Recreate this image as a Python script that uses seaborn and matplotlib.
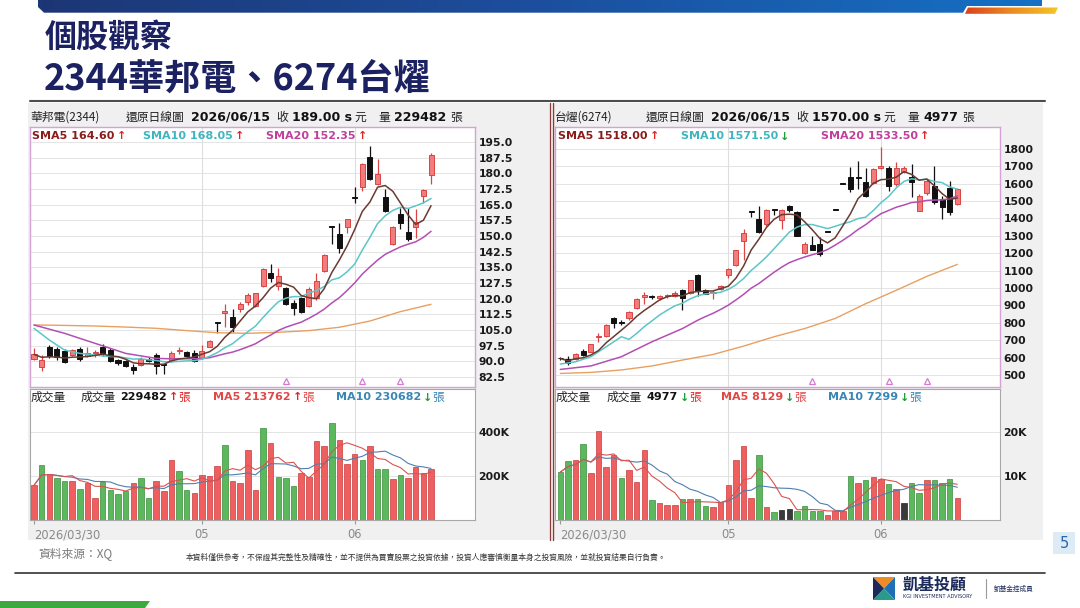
import numpy as np
import pandas as pd
import matplotlib
matplotlib.use("Agg")
import matplotlib.pyplot as plt
import matplotlib.transforms as mtransforms
from matplotlib.patches import Rectangle, Polygon
from matplotlib.colors import LinearSegmentedColormap
import seaborn as sns

# ---------------- DATA ----------------
month_tick_idx = [0, 22, 42]
month_tick_labels = ["2026/03/30", "05", "06"]
marker_idx = [33, 43, 48]

# 華邦電 (2344)
a_open = [91.1, 87.4, 97.0, 95.7, 94.9, 93.0, 95.7, 92.5, 93.9, 96.7, 95.4, 90.6, 90.1, 87.4, 88.2, 91.0,
          93.0, 88.5, 90.3, 95.0, 94.5, 94.1, 91.4, 97.0, 108.5, 113.0, 111.4, 114.9, 118.2, 116.6, 126.2,
          132.4, 126.1, 125.0, 117.8, 120.1, 116.5, 120.1, 133.2, 154.8, 151.0, 154.5, 168.2, 173.6, 188.0,
          174.9, 168.8, 146.0, 160.5, 152.1, 154.1, 169.1, 179.2]
a_high = [96.2, 93.0, 97.8, 97.0, 95.7, 96.0, 97.0, 97.0, 95.4, 98.1, 96.2, 90.9, 90.6, 88.5, 92.1, 92.0,
          93.8, 88.7, 95.0, 97.0, 95.0, 95.4, 97.8, 100.2, 108.6, 117.3, 114.9, 118.2, 122.9, 122.9, 134.5,
          136.6, 134.5, 125.7, 119.3, 121.0, 125.7, 132.4, 141.4, 154.9, 156.4, 158.3, 173.6, 184.8, 193.1,
          186.9, 172.3, 154.8, 163.2, 163.2, 162.8, 172.3, 189.6]
a_low = [90.7, 85.4, 91.4, 90.6, 89.0, 92.5, 90.3, 92.1, 92.1, 92.5, 89.8, 88.0, 87.4, 83.8, 87.7, 89.5,
         83.9, 84.0, 89.8, 93.5, 92.1, 89.5, 91.1, 96.7, 103.7, 106.6, 104.2, 113.8, 117.0, 116.2, 125.7,
         128.1, 124.1, 117.0, 112.2, 113.3, 115.8, 119.3, 132.9, 146.2, 141.7, 151.3, 165.6, 171.7, 176.8,
         174.4, 161.6, 145.5, 153.2, 147.8, 148.9, 166.0, 174.7]
a_close = [93.3, 90.6, 92.5, 91.9, 89.5, 95.4, 90.9, 93.8, 94.5, 93.3, 90.3, 89.3, 87.7, 85.8, 91.1, 90.3,
           87.7, 88.2, 93.8, 95.5, 92.5, 90.3, 95.0, 99.7, 108.4, 114.2, 106.6, 117.4, 121.7, 122.5, 134.0,
           129.7, 130.8, 117.4, 115.7, 113.8, 124.6, 128.6, 140.9, 154.5, 144.1, 158.0, 168.0, 184.3, 177.1,
           179.5, 162.0, 154.1, 156.1, 148.6, 156.9, 172.0, 189.0]
a_volume = [157600, 251500, 210600, 190900, 175800, 178800, 139400, 169700, 101500, 172700, 134800, 118200,
            130300, 168200, 189400, 101500, 178800, 130300, 272700, 222700, 134800, 124200, 204500, 200000,
            243900, 339400, 178800, 168200, 318200, 137900, 419700, 350000, 197000, 189400, 154500, 213600,
            197000, 359100, 337900, 439400, 362100, 254500, 300000, 274200, 334800, 233300, 231800, 184800,
            206100, 189400, 242400, 215200, 229482]
a_vol_dir = "rgrggrgrrggggrggrrrggrrrrgrrrrgrgggrrrrgrrrgrggrgrrr"
a_ma10_head_idx = [0, 2, 4, 6, 8]
a_ma10_head = [105.8, 100.2, 95.4, 93.8, 93.0]
a_ma20_head_idx = [0, 4, 8, 12, 16, 18]
a_ma20_head = [107.4, 103.4, 98.6, 93.8, 91.4, 91.2]
a_ma60_idx = [0, 4, 8, 12, 16, 20, 24, 28, 32, 36, 40, 44, 48, 52]
a_ma60 = [107.4, 107.2, 106.9, 106.4, 105.8, 104.7, 103.7, 103.4, 103.9, 104.7, 106.3, 109.3, 113.8, 117.3]
a_price_ticks = [82.5, 90.0, 97.5, 105.0, 112.5, 120.0, 127.5, 135.0, 142.5, 150.0, 157.5, 165.0, 172.5,
                 180.0, 187.5, 195.0]
a_vol_ticks = [200000, 400000]
a_vol_tick_labels = ["200K", "400K"]

# 台燿 (6274)
b_open = [597, 592, 592, 637, 634, 717, 725, 828, 802, 825, 888, 950, 952, 945, 952, 955, 987, 971, 1076,
          991, 970, 993, 1076, 1130, 1273, 1440, 1397, 1369, 1452, 1391, 1470, 1435, 1200, 1248, 1254, 1327,
          1450, 1600, 1636, 1634, 1607, 1603, 1693, 1693, 1601, 1670, 1640, 1445, 1544, 1588, 1512, 1575, 1483]
b_high = [605, 609, 624, 647, 681, 739, 796, 834, 819, 868, 943, 977, 958, 958, 964, 981, 996, 1048, 1082,
          996, 987, 1016, 1117, 1220, 1340, 1441, 1474, 1454, 1454, 1455, 1480, 1441, 1264, 1298, 1292, 1329,
          1452, 1602, 1697, 1731, 1693, 1693, 1811, 1703, 1727, 1703, 1712, 1540, 1626, 1703, 1531, 1617, 1573]
b_low = [586, 557, 586, 609, 630, 691, 719, 773, 786, 819, 882, 910, 939, 930, 945, 949, 872, 968, 952, 964,
         939, 987, 1059, 1124, 1159, 1411, 1315, 1359, 1422, 1340, 1435, 1298, 1193, 1216, 1187, 1323, 1446,
         1596, 1550, 1569, 1521, 1598, 1684, 1559, 1588, 1661, 1525, 1441, 1537, 1483, 1397, 1422, 1479]
b_close = [595, 567, 620, 615, 678, 722, 790, 800, 798, 863, 935, 960, 949, 952, 955, 973, 945, 1044, 983,
           968, 977, 1012, 1111, 1216, 1315, 1439, 1321, 1451, 1450, 1450, 1450, 1302, 1254, 1220, 1197, 1325,
           1448, 1598, 1569, 1632, 1531, 1684, 1700, 1584, 1689, 1689, 1607, 1531, 1617, 1493, 1468, 1440, 1570]
b_volume = [10900, 13400, 13600, 17300, 10700, 20200, 12000, 14900, 9600, 11300, 8600, 15900, 4500, 3900,
            3500, 3300, 4700, 4700, 4700, 3200, 3000, 4100, 7900, 13700, 16900, 4900, 14700, 3000, 1900, 2300,
            2500, 2000, 3100, 2000, 2000, 1200, 2000, 2000, 9900, 8500, 9200, 9800, 9300, 8300, 7000, 3900,
            8400, 6200, 9000, 9000, 8400, 9300, 4977]
b_vol_dir = "ggrgrrrrgrrrgrrrgrggrrrrrrgrgkkggggrrrgrgrrgrkggrgggr"
b_ma10_head_idx = [0, 2, 4, 6, 8]
b_ma10_head = [563, 576, 605, 662, 720]
b_ma20_head_idx = [0, 4, 8, 12, 16, 18]
b_ma20_head = [532, 552, 605, 691, 767, 815]
b_ma60_idx = [0, 4, 8, 12, 16, 20, 24, 28, 32, 36, 40, 44, 48, 52]
b_ma60 = [509, 515, 529, 552, 586, 618, 666, 720, 767, 825, 910, 987, 1067, 1136]
b_price_ticks = [500, 600, 700, 800, 900, 1000, 1100, 1200, 1300, 1400, 1500, 1600, 1700, 1800]
b_vol_ticks = [10000, 20000]
b_vol_tick_labels = ["10K", "20K"]

# ---------------- STYLE ----------------
sns.set_theme(style="white")
plt.rcParams['font.family'] = ['Noto Sans CJK TC', 'DejaVu Sans']
plt.rcParams['axes.unicode_minus'] = False

W, H = 1080, 608
fig = plt.figure(figsize=(10.8, 6.08), dpi=100)
fig.patch.set_facecolor('white')
renderer = fig.canvas.get_renderer()


def fx(x):
    return x / W


def fy(y):
    return 1 - y / H


def add_ax(x0, y0, x1, y1, **kw):
    return fig.add_axes([fx(x0), fy(y1), (x1 - x0) / W, (y1 - y0) / H], **kw)


LAT = ['DejaVu Sans']
CJK = ['Noto Sans CJK TC', 'DejaVu Sans']


def T(x, y, s, size=8.5, color='#222222', weight='normal', fam=None, ha='left', va='center', z=5):
    return fig.text(fx(x), fy(y), s, fontsize=size, color=color, fontweight=weight,
                    family=fam if fam else CJK, ha=ha, va=va, zorder=z)


# background / decoration axes
bg = fig.add_axes([0, 0, 1, 1], zorder=-5)
bg.set_xlim(0, W)
bg.set_ylim(H, 0)
bg.axis('off')

# top banner with gradient
grad = np.linspace(0, 1, 256).reshape(1, -1)
cm_blue = LinearSegmentedColormap.from_list('b', ['#1d3675', '#1c4f9e', '#1570c4'])
im = bg.imshow(grad, cmap=cm_blue, extent=[38, 1042, 13, 0], aspect='auto', zorder=1)
banner = Polygon([(38, 0), (1042, 0), (1042, 6), (967, 6), (963, 12.7), (44, 12.7), (38, 7)],
                 closed=True, transform=bg.transData, fc='none', ec='none')
bg.add_patch(banner)
im.set_clip_path(banner)
cm_org = LinearSegmentedColormap.from_list('o', ['#d8401e', '#ec8a22', '#f2c626'])
im2 = bg.imshow(grad, cmap=cm_org, extent=[964, 1058, 14, 7], aspect='auto', zorder=1)
strip = Polygon([(968, 7.5), (1058, 7.5), (1055, 13.8), (965, 13.8)], closed=True,
                transform=bg.transData, fc='none', ec='none')
bg.add_patch(strip)
im2.set_clip_path(strip)

# titles
T(45, 38, '個股觀察', size=23, color='#1b2161', weight='bold')
T(44, 80, '2344華邦電、6274台燿', size=26, color='#1b2161', weight='bold')
bg.plot([30, 1045], [100.5, 100.5], color='#4d4d4d', lw=1.5, zorder=2)

# panel backgrounds
bg.add_patch(Rectangle((28, 103), 521, 437, fc='#f0f0f0', ec='none', zorder=1))
bg.add_patch(Rectangle((553, 103), 490, 437, fc='#f0f0f0', ec='none', zorder=1))
bg.plot([549.5, 549.5], [103, 540], color='#8b3a3a', lw=1, zorder=2)
bg.plot([552.5, 552.5], [103, 540], color='#8b3a3a', lw=1, zorder=2)

# footer
T(38, 555, '資料來源：XQ', size=8.5, color='#7a7a7a')
T(186, 558, '本資料僅供參考，不保證其完整性及精確性，並不提供為買賣股票之投資依據，投資人應審慎衡量本身之投資風險，並就投資結果自行負責。',
  size=5.6, color='#333333')
bg.plot([15, 1045], [572.5, 572.5], color='#333333', lw=1.2, zorder=2)
bg.add_patch(Rectangle((1053, 532), 22, 22, fc='#dcebf6', ec='none', zorder=2))
T(1064, 543, '5', size=10.5, color='#2a66aa', fam=LAT, ha='center')
bg.add_patch(Polygon([(0, 601), (150, 601), (145, 608), (0, 608)], closed=True, fc='#3daa3d', ec='none', zorder=2))
# logo
cx, cy = 884, 588.5
bg.add_patch(Polygon([(873, 577), (895, 577), (cx, cy)], fc='#f08a24', ec='none', zorder=3))
bg.add_patch(Polygon([(895, 577), (895, 600), (cx, cy)], fc='#1f6fb5', ec='none', zorder=3))
bg.add_patch(Polygon([(873, 600), (895, 600), (cx, cy)], fc='#2a9a8a', ec='none', zorder=3))
bg.add_patch(Polygon([(873, 577), (873, 600), (cx, cy)], fc='#1b2a5a', ec='none', zorder=3))
T(903, 585, '凱基投顧', size=11.5, color='#1b2a5a', weight='bold')
T(903, 597, 'KGI INVESTMENT ADVISORY', size=3.6, color='#1b2a5a', fam=LAT)
bg.plot([986, 986], [579, 598], color='#999999', lw=0.8, zorder=2)
T(994, 589, '凱基金控成員', size=4.8, color='#1b2a5a')

# ---------------- CHARTS ----------------
RED_F, RED_E = '#f27b7b', '#d94444'
BLK = '#111111'
VCOL = {'r': ('#ef5f5f', '#c83c3c'), 'g': ('#5cb85c', '#3c8c3c'), 'k': ('#3a3a3a', '#222222')}


def draw_stock(x0, x1, first_x, o, h, l, c, vol, vdir, m10_idx, m10_head, m20_idx, m20_head,
               m60_idx, m60, pticks, pfmt, ylim, vticks, vlabels, vylim, min_body):
    n = len(c)
    step = 7.635
    xlim = (-(first_x - x0) / step, (x1 - first_x) / step)
    idx = np.arange(n)
    o = np.array(o, float); h = np.array(h, float); l = np.array(l, float); c = np.array(c, float)
    cs = pd.Series(c)

    ax = add_ax(x0, 127, x1, 387)
    ax.set_facecolor('white')
    ax.set_xlim(*xlim)
    ax.set_ylim(*ylim)
    for yv in pticks:
        ax.axhline(yv, color='#e4e4e4', lw=0.7, zorder=0)
    for xv in month_tick_idx[1:]:
        ax.axvline(xv, color='#dedede', lw=0.8, zorder=0)
    up = c >= o
    for i in idx:
        col_e = RED_E if up[i] else BLK
        ax.vlines(i, l[i], h[i], color=col_e, lw=0.9, zorder=2)
        bot = min(o[i], c[i])
        hgt = max(abs(c[i] - o[i]), min_body)
        ax.bar(i, hgt, bottom=bot, width=0.66, color=RED_F if up[i] else BLK,
               edgecolor=col_e, linewidth=0.7, zorder=3)
    ma5 = cs.rolling(5, min_periods=1).mean()
    ma10_x = list(m10_idx) + list(range(9, n))
    ma10_y = list(m10_head) + list(cs.rolling(10).mean()[9:])
    ma20_x = list(m20_idx) + list(range(19, n))
    ma20_y = list(m20_head) + list(cs.rolling(20).mean()[19:])
    sns.lineplot(x=m60_idx, y=m60, ax=ax, color='#e8a062', lw=1.0, zorder=4)
    sns.lineplot(x=ma20_x, y=ma20_y, ax=ax, color='#b24fb2', lw=1.1, zorder=4)
    sns.lineplot(x=ma10_x, y=ma10_y, ax=ax, color='#5cc6c8', lw=1.1, zorder=4)
    sns.lineplot(x=idx, y=ma5.values, ax=ax, color='#6a3a30', lw=1.1, zorder=4)
    tr = mtransforms.blended_transform_factory(ax.transData, ax.transAxes)
    ax.plot(marker_idx, [0.022] * len(marker_idx), ls='none', marker='^', ms=5, mfc='none',
            mec='#d47ad4', mew=0.9, transform=tr, zorder=5, clip_on=False)
    ax.set_xticks([])
    ax.yaxis.tick_right()
    ax.set_yticks(pticks)
    ax.set_yticklabels([pfmt.format(v) for v in pticks])
    ax.tick_params(axis='y', length=0, pad=2.5, labelsize=7.8, labelcolor='#1a1a1a')
    for t in ax.get_yticklabels():
        t.set_family(LAT); t.set_fontweight('bold')
    ax.set_xlabel(''); ax.set_ylabel('')
    for s in ax.spines.values():
        s.set_color('#d4a2d4'); s.set_linewidth(1.0); s.set_visible(True)

    av = add_ax(x0, 389, x1, 520)
    av.set_facecolor('white')
    av.set_xlim(*xlim)
    av.set_ylim(*vylim)
    for yv in vticks:
        av.axhline(yv, color='#e4e4e4', lw=0.7, zorder=0)
    for xv in month_tick_idx[1:]:
        av.axvline(xv, color='#dedede', lw=0.8, zorder=0)
    fcs = [VCOL[d][0] for d in vdir]
    ecs = [VCOL[d][1] for d in vdir]
    av.bar(idx, vol, width=0.72, color=fcs, edgecolor=ecs, linewidth=0.5, zorder=2)
    vs = pd.Series(np.array(vol, float))
    sns.lineplot(x=idx, y=vs.rolling(10, min_periods=1).mean().values, ax=av, color='#4f7fae', lw=0.8, zorder=3)
    sns.lineplot(x=idx, y=vs.rolling(5, min_periods=1).mean().values, ax=av, color='#d9534f', lw=0.8, zorder=3)
    av.yaxis.tick_right()
    av.set_yticks(vticks)
    av.set_yticklabels(vlabels)
    av.tick_params(axis='y', length=0, pad=2.5, labelsize=7.8, labelcolor='#1a1a1a')
    for t in av.get_yticklabels():
        t.set_family(LAT); t.set_fontweight('bold')
    av.set_xticks(month_tick_idx)
    av.set_xticklabels(month_tick_labels)
    av.tick_params(axis='x', direction='out', length=3, width=0.8, color='#999999', pad=3,
                   labelsize=8.3, labelcolor='#8a8a8a', bottom=True)
    labs = av.get_xticklabels()
    for t in labs:
        t.set_family(LAT)
    labs[0].set_horizontalalignment('left')
    av.set_xlabel(''); av.set_ylabel('')
    for s in av.spines.values():
        s.set_color('#a8a8a8'); s.set_linewidth(0.8); s.set_visible(True)
    return ax, av


draw_stock(30, 475, 34.0, a_open, a_high, a_low, a_close, a_volume, a_vol_dir,
           a_ma10_head_idx, a_ma10_head, a_ma20_head_idx, a_ma20_head, a_ma60_idx, a_ma60,
           a_price_ticks, '{:.1f}', (77.7, 202.2), a_vol_ticks, a_vol_tick_labels, (0, 595000), 0.45)
draw_stock(555, 1000, 560.3, b_open, b_high, b_low, b_close, b_volume, b_vol_dir,
           b_ma10_head_idx, b_ma10_head, b_ma20_head_idx, b_ma20_head, b_ma60_idx, b_ma60,
           b_price_ticks, '{:d}', (431, 1926), b_vol_ticks, b_vol_tick_labels, (0, 29800), 5.5)

# ---------------- HEADER TEXTS ----------------
UP, DN = '↑', '↓'
R_ARW, G_ARW = '#e02424', '#1e9e3a'


def header(y, segs):
    """segs: (x or None, gap, text, kind, color); None = chained after previous text."""
    cur = 0
    for x, gap, s, kind, col in segs:
        if x is None:
            x = cur + gap
        if kind == 'b':
            t = T(x, y, s, size=9, color=col, weight='bold', fam=LAT)
        elif kind in ('a', 's'):
            t = T(x, y, s, size=8, color=col, weight='bold', fam=LAT)
        else:
            t = T(x, y, s, size=8.5, color=col)
        cur = t.get_window_extent(renderer=renderer).x1


K = '#222222'
KB = '#111111'
header(117.5, [(30, 0, '華邦電(2344)', 'c', K), (126, 0, '還原日線圖', 'c', K),
               (191, 0, '2026/06/15', 'b', KB), (None, 6, '收', 'c', K), (None, 4, '189.00 s', 'b', KB),
               (None, 3, '元', 'c', K), (None, 12, '量', 'c', K), (None, 4, '229482', 'b', KB),
               (None, 4, '張', 'c', K)])
header(117.5, [(555, 0, '台燿(6274)', 'c', K), (646, 0, '還原日線圖', 'c', K),
               (711, 0, '2026/06/15', 'b', KB), (None, 6, '收', 'c', K), (None, 4, '1570.00 s', 'b', KB),
               (None, 3, '元', 'c', K), (None, 12, '量', 'c', K), (None, 4, '4977', 'b', KB),
               (None, 4, '張', 'c', K)])

C5, C10, C20 = '#8b1c1c', '#3fb6bf', '#c0409c'
header(136.5, [(32, 0, 'SMA5 164.60', 's', C5), (None, 2, UP, 'a', R_ARW),
               (143, 0, 'SMA10 168.05', 's', C10), (None, 2, UP, 'a', R_ARW),
               (266, 0, 'SMA20 152.35', 's', C20), (None, 2, UP, 'a', R_ARW)])
header(136.5, [(558, 0, 'SMA5 1518.00', 's', C5), (None, 2, UP, 'a', R_ARW),
               (681, 0, 'SMA10 1571.50', 's', C10), (None, 2, DN, 'a', G_ARW),
               (821, 0, 'SMA20 1533.50', 's', C20), (None, 2, UP, 'a', R_ARW)])

VR, VB = '#e04848', '#3a86b4'
header(397.5, [(31, 0, '成交量', 'c', K), (81, 0, '成交量', 'c', K), (None, 4, '229482', 's', KB),
               (None, 2, UP, 'a', R_ARW), (None, 0, '張', 'c', R_ARW),
               (213, 0, 'MA5 213762', 's', VR), (None, 2, UP, 'a', R_ARW), (None, 0, '張', 'c', VR),
               (336, 0, 'MA10 230682', 's', VB), (None, 2, DN, 'a', G_ARW), (None, 0, '張', 'c', VB)])
header(397.5, [(556, 0, '成交量', 'c', K), (607, 0, '成交量', 'c', K), (None, 4, '4977', 's', KB),
               (None, 2, DN, 'a', G_ARW), (None, 0, '張', 'c', R_ARW),
               (721, 0, 'MA5 8129', 's', VR), (None, 2, DN, 'a', G_ARW), (None, 0, '張', 'c', VR),
               (828, 0, 'MA10 7299', 's', VB), (None, 2, DN, 'a', G_ARW), (None, 0, '張', 'c', VB)])

fig.savefig('out.png', dpi=100, facecolor='white')
